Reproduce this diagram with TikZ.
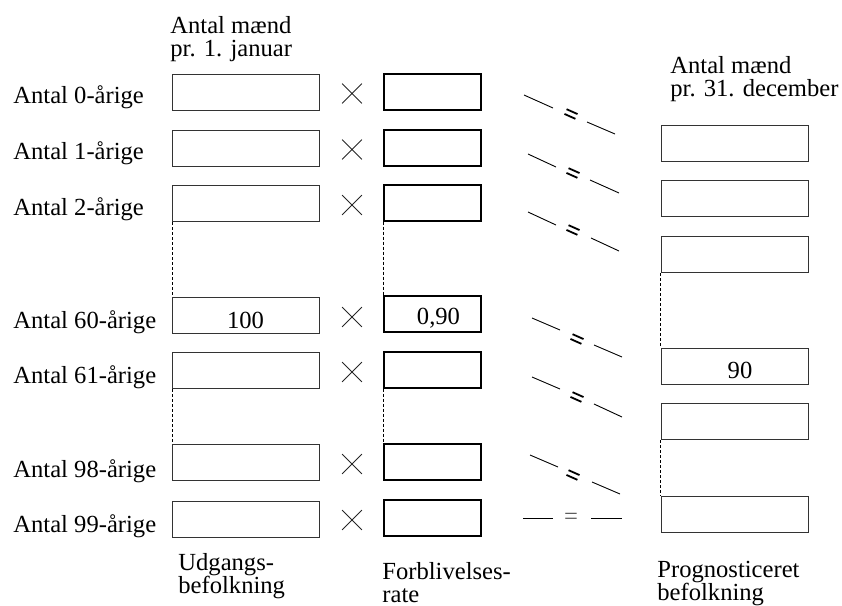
\documentclass[tikz,border=0pt]{standalone}
\usepackage{fontspec}
\setmainfont{Liberation Serif}
\usepackage{xcolor}
\usepackage{tikz}
\usetikzlibrary{shapes.misc}

\begin{document}
\begin{tikzpicture}[x=0.5pt, y=-0.5pt,
    font=\fontsize{12.3}{11.5}\selectfont,
    popbox/.style={draw=black!80, line width=0.5pt, minimum width=73.5pt, minimum height=18pt, inner sep=0pt},
    ratebox/.style={draw=black, line width=1pt, minimum width=48.5pt, minimum height=18pt, inner sep=0pt},
    timesign/.style={draw=black!85, cross out, line width=0.4pt, minimum size=9.5pt, inner sep=0pt},
    rowlabel/.style={anchor=base west, inner sep=0pt},
    headlabel/.style={anchor=north west, inner sep=0pt, align=left},
    eqmark/.pic={\draw[line width=0.9pt] (-6,-2.6) -- (6,-2.6) (-6,2.6) -- (6,2.6);},
    eqline/.style={line width=0.45pt},
    gapline/.style={dash pattern=on 1.5pt off 1pt, line width=0.45pt}]

    \useasboundingbox (0,0) rectangle (842,606);

    % Column headings
    \node[headlabel] (hstart) at (170,16.5) {Antal mænd\\pr. 1. januar};
    \node[headlabel] (hend) at (670,56.5) {Antal mænd\\pr. 31. december};

    % Row labels
    \node[rowlabel] (l0) at (13,103) {Antal 0-årige};
    \node[rowlabel] (l1) at (13,159) {Antal 1-årige};
    \node[rowlabel] (l2) at (13,215) {Antal 2-årige};
    \node[rowlabel] (l60) at (13,328) {Antal 60-årige};
    \node[rowlabel] (l61) at (13,383) {Antal 61-årige};
    \node[rowlabel] (l98) at (13,477) {Antal 98-årige};
    \node[rowlabel] (l99) at (13,532) {Antal 99-årige};

    % Starting population
    \node[popbox] (u0) at (246,92.5) {};
    \node[popbox] (u1) at (246,148.5) {};
    \node[popbox] (u2) at (246,203.5) {};
    \node[popbox] (u60) at (246,315.5) {};
    \node[popbox] (u61) at (246,370.5) {};
    \node[popbox] (u98) at (246,462.5) {};
    \node[popbox] (u99) at (246,519) {};
    \node[anchor=base, inner sep=0pt] (v100) at (245.5,328) {100};

    % Multiplication signs
    \node[timesign] (x0) at (352,93.5) {};
    \node[timesign] (x1) at (352,149.5) {};
    \node[timesign] (x2) at (352,205) {};
    \node[timesign] (x60) at (352,317) {};
    \node[timesign] (x61) at (352,372) {};
    \node[timesign] (x98) at (352,464) {};
    \node[timesign] (x99) at (352,520) {};

    % Survival rates
    \node[ratebox] (f0) at (432.5,91.5) {};
    \node[ratebox] (f1) at (432.5,147.5) {};
    \node[ratebox] (f2) at (432.5,202.5) {};
    \node[ratebox] (f60) at (432.5,314) {};
    \node[ratebox] (f61) at (432.5,369.5) {};
    \node[ratebox] (f98) at (432.5,461.5) {};
    \node[ratebox] (f99) at (432.5,518) {};
    \node[anchor=base, inner sep=0pt] (v090) at (438.5,324) {0,90};

    % Projected population
    \node[popbox] (p0) at (734.5,143.5) {};
    \node[popbox] (p1) at (734.5,198.5) {};
    \node[popbox] (p2) at (734.5,254.5) {};
    \node[popbox] (p60) at (734.5,366) {};
    \node[popbox] (p61) at (734.5,421.5) {};
    \node[popbox] (p99) at (734.5,514) {};
    \node[anchor=base, inner sep=0pt] (v90) at (740,378) {90};

    % Omitted age groups
    \draw[gapline] (u2.south west) -- (u60.north west);
    \draw[gapline] (u61.south west) -- (u98.north west);
    \draw[gapline] (f2.south west) -- (f60.north west);
    \draw[gapline] (f61.south west) -- (f98.north west);
    \draw[gapline] (p2.south west) -- (p60.north west);
    \draw[gapline] (p61.south west) -- (p99.north west);

    % Equals signs
    \draw[eqline] (524,95) -- ++(29,13) (587,122) -- ++(28,12);
    \pic[rotate=-24] at (571,114) {eqmark};
    \draw[eqline] (528,154) -- ++(28,13) (590,180) -- ++(29,13);
    \pic[rotate=-24] at (573,173) {eqmark};
    \draw[eqline] (528,212) -- ++(28,13) (591,238) -- ++(28,13);
    \pic[rotate=-24] at (573,230) {eqmark};
    \draw[eqline] (532,318) -- ++(28,12) (594,345) -- ++(28,12);
    \pic[rotate=-24] at (577,339) {eqmark};
    \draw[eqline] (532,377) -- ++(28,12) (594,404) -- ++(28,13);
    \pic[rotate=-24] at (577,397) {eqmark};
    \draw[eqline] (530,455) -- ++(28,12) (592,482) -- ++(28,12);
    \pic[rotate=-24] at (573,475) {eqmark};
    \draw[eqline] (523,518) -- (553,518) (591,518) -- (622,518);
    \node[inner sep=0pt, text=black!65] (e99) at (571,519) {=};

    % Column captions
    \node[headlabel] (cstart) at (178,553) {Udgangs-\\befolkning};
    \node[headlabel] (crate) at (382,562) {Forblivelses-\\rate};
    \node[headlabel] (cend) at (657,561) {Prognosticeret\\befolkning};
\end{tikzpicture}
\end{document}
